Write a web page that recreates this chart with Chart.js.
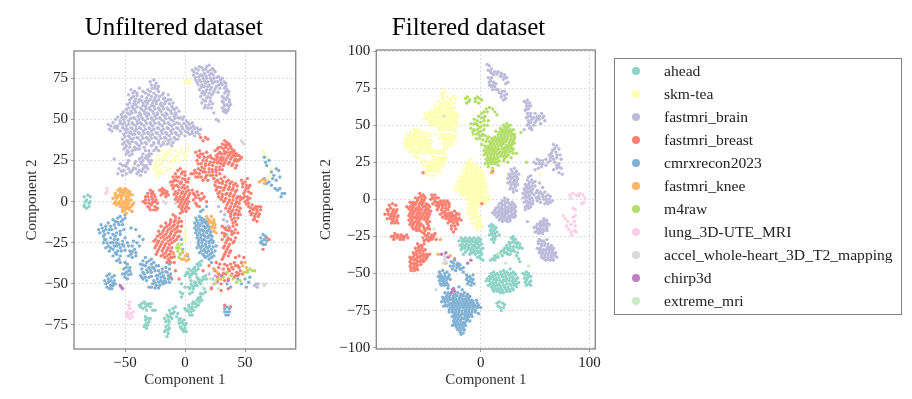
<!DOCTYPE html>
<html>
<head>
<meta charset="utf-8">
<script src="https://cdn.jsdelivr.net/npm/chart.js@4"></script>
<style>
  html, body { margin: 0; padding: 0; background: #fff; }
  body { position: relative; width: 912px; height: 399px; overflow: hidden; font-family: "Liberation Serif", serif; }
  .plot { position: absolute; top: 0; height: 399px; filter: blur(0.45px); }
  #legend { position: absolute; left: 614px; top: 58px; width: 288px; height: 257px; box-sizing: border-box; border: 1px solid #808080; padding-top: 0.5px; filter: blur(0.35px); }
  #legend div { position: relative; height: 23px; line-height: 22px; font-size: 15.6px; color: #222; padding-left: 49px; white-space: nowrap; }
  #legend i { position: absolute; left: 17px; top: 7.5px; width: 8px; height: 8px; border-radius: 50%; }
</style>
</head>
<body>
<div class="plot" style="left:0;width:348px"><canvas id="plotA"></canvas></div>
<div class="plot" style="left:300px;width:337px"><canvas id="plotB"></canvas></div>
<div id="legend"></div>
<script>
const names = ["ahead", "skm-tea", "fastmri_brain", "fastmri_breast", "cmrxrecon2023", "fastmri_knee", "m4raw", "lung_3D-UTE_MRI", "accel_whole-heart_3D_T2_mapping", "chirp3d", "extreme_mri"];
const colors = ["#8dd3c7", "#ffffb3", "#bebada", "#fb8072", "#80b1d3", "#fdb462", "#b3de69", "#fccde5", "#d9d9d9", "#bc80bd", "#ccebc5"];
const xTicksA = [-50, 0, 50];
const yTicksA = [-75, -50, -25, 0, 25, 50, 75];
const xTicksB = [0, 100];
const yTicksB = [-100, -75, -50, -25, 0, 25, 50, 75, 100];

// ================= UNFILTERED (x,y pairs) =================
const uAhead = [-84,3,-83,0,-84,-3,-82,-4,-80,-3,-79,0,-79,3,-81,4,-82,1,-80,-1,-84,-2,
  0,-45,2,-43,4,-46,3,-41,6,-44,8,-40,7,-43,10,-38,12,-37,14,-36,11,-41,9,-44,5,-48,-3,-50,
  3,-52,5,-50,7,-53,9,-49,11,-47,13,-50,15,-46,17,-45,18,-47,8,-51,6,-55,4,-56,12,-49,-4,-55,-2,-56,-3,-58,
  0,-65,2,-66,3,-63,5,-67,6,-64,8,-62,10,-60,9,-64,11,-63,7,-66,13,-58,14,-60,15,-56,17,-55,12,-61,4,-69,6,-69,
  -38,-63,-36,-62,-35,-65,-33,-64,-34,-61,-31,-63,-29,-64,-27,-66,-25,-66,-28,-62,
  -33,-72,-32,-74,-34,-76,-31,-71,-30,-73,-32,-77,-29,-71,-17,-71,
  -15,-69,-14,-72,-12,-68,-11,-71,-13,-66,-10,-65,-9,-67,-16,-73,-8,-64,
  -16,-76,-15,-78,-14,-80,-17,-79,-15,-82,-13,-77,-14,-75,
  -7,-70,-5,-72,-3,-73,-1,-75,-6,-68,-4,-76,-2,-78,0,-77,1,-79,-1,-72,1,-74,-5,-74,
  1,-44,3,-44,5,-42,7,-41,9,-42,11,-39,13,-38.5,5,-44.5,4,-53,6,-51.5,8,-49,10,-51,12,-47.5,14,-48,16,-47,10,-46,0,-52,1,-66,3,-67,4,-64.5,6,-62,7,-61,9,-62,11,-58.5,13,-56,5,-65,12,-59,16,-53,
  -37,-64,-33,-62,-32,-66,-30,-62,-33,-70,-31,-75,-33,-75,-14,-70,-12,-70,-13,-73,-10,-68,-16,-78,-14,-78,-4,-71,-2,-74,-3,-77,0,-75,-1,-79];
const uSkm = [-26,20,-24,17,-22,15,-25,23,-22,22,-20,19,-18,17,-21,26,-23,28,-19,24,-17,21,-15,19,-20,31,-17,29,-16,26,-13,24,-14,30,-11,28,-10,25,-8,31,-6,28,-5,25,-3,32,-1,29,0,26,2,31,3,33,-8,27,-12,20,-24,25,-18,27,
  -23,19,-21,17,-24,21,-20,23,-15,28,-12,32,-9,24,-4,30,1,28,
  2,74,4,73,3,72,0,73,65,31,66,29,68,27,70,16,69,14,72,20,0,-17,0,-20,1,-22,0,-24,-54,-41];
const uBrain = [-26,74,-24,72,-28,71,-22,70,-25,69,-31,68,-45,68,-42,67,-38,69,-33,66,-29,67,-26,66,-22,67,-18,66,
  -47,65,-43,64,-40,66,-36,64,-32,63,-28,64,-25,63,-21,64,-17,63,-14,65,-46,62,-42,61,-38,62,-35,60,-31,61,-27,60,-24,61,-20,60,-16,61,-12,62,-10,60,
  -48,59,-44,58,-41,59,-37,57,-33,58,-30,57,-26,58,-22,57,-19,58,-15,57,-11,58,-9,56,-49,56,-45,55,-42,56,-38,54,-34,55,-31,54,-27,55,-23,54,-20,55,-16,54,-12,55,-8,54,-5,55,
  -53,53,-50,52,-46,53,-43,51,-39,52,-36,51,-32,52,-28,51,-25,52,-21,51,-17,52,-13,51,-9,52,-6,51,-58,50,-54,49,-51,50,-47,49,-44,48,-40,49,-37,48,-33,49,-29,48,-26,49,-22,48,-18,49,-14,48,-10,49,-7,48,-2,50,1,49,
  -64,47,-60,48,-56,46,-52,47,-49,46,-45,45,-41,46,-38,45,-34,46,-30,45,-27,46,-23,45,-19,46,-15,45,-11,46,-7,45,-3,46,1,46,4,47,7,46,10,45,
  -63,44,-59,45,-54,43,-50,44,-46,42,-42,43,-39,42,-35,43,-31,42,-28,43,-24,42,-20,43,-16,42,-12,43,-8,42,-4,43,0,43,3,44,6,43,9,42,13,44,
  -51,41,-47,40,-44,41,-40,39,-36,40,-32,39,-29,40,-25,39,-21,40,-17,39,-13,40,-9,39,-5,40,0,40,4,41,8,40,12,41,
  -52,38,-48,37,-45,38,-41,36,-37,37,-33,36,-30,37,-26,36,-22,37,-18,36,-14,37,-10,36,-6,38,-52,35,-49,34,-46,35,-42,33,-38,34,-34,33,-28,34,-24,33,-20,34,-15,35,-11,34,
  -51,32,-48,31,-44,31,-40,32,-26,31,-22,31,-49,29,-46,28,-35,29,-32,28,-28,29,-30,31,-59,26,-47,25,-38,26,-35,25,-31,26,-28,25,-54,23,-50,22,-42,23,-39,22,-36,23,-32,22,-29,23,-55,20,-51,19,-47,20,-44,19,-41,20,-38,19,-35,20,-31,20,-56,17,-52,16,-49,17,-45,18,-40,17,-37,16,-33,18,
  -29,73,-25,70.5,-27.5,69,-23,68.5,-43.5,66,-40,64.5,-35,67,-30.5,65,-24,64.5,-19,65,-44.5,63,-41,62.5,-36.5,61.5,-33,61,-29,62,-26,61.5,-22,62,-18,62.5,-14,62,-46,60,-42.5,59.5,-39,60.5,-35,58.5,-31.5,59.5,-28,58.5,-24,59.5,-20.5,59,-17,59.5,-13,59.5,
  -47,57,-43.5,57,-40,57.5,-36,56,-32.5,56.5,-29,56,-25,56.5,-21.5,56,-18,56.5,-14,56,-10,56.5,-7,57,-51.5,54.5,-48,54,-44,54,-41,54.5,-37,53,-33.5,53.5,-30,53,-26,53.5,-23,53,-19,53,-15,53,-11,53.5,-7.5,53,
  -56,51.5,-52.5,51,-49,51.5,-45.5,50.5,-42,50.5,-38.5,50,-35,50,-31,50.5,-27.5,50,-24,50.5,-20,50,-16,50.5,-12,50,-8.5,50.5,-4,51,-1,51.5,
  -62,46,-58,46,-54,47.5,-50.5,48,-47,47,-43,47,-39.5,47.5,-36,47,-32,47.5,-28.5,47,-25,47.5,-21,47,-17,47.5,-13,47,-9,47,-5,47.5,-1,47.5,2.5,48,6,48,
  -61,43,-56.5,44.5,-52,45,-48,44,-44,44.5,-40.5,44,-37,44.5,-33,44,-29.5,44.5,-26,44,-22,44.5,-18,44,-14,44.5,-10,44,-6,44.5,-2,44.5,2,45,5,45,8,44.5,11,43.5,
  -49,42,-45.5,42.5,-42,41,-38,41.5,-34,41.5,-30.5,41.5,-27,41,-23,41.5,-19,41.5,-15,41,-11,41.5,-7,41,-3,41.5,2,42,6,41.5,10,42,
  -50,39.5,-46.5,39.5,-43,38.5,-39,38.5,-35,38.5,-31.5,38.5,-28,38.5,-24,38.5,-20,38.5,-16,38.5,-12,38,-8,38,
  -50.5,36,-47,36,-44,36.5,-40,35,-36,35.5,-32,35,-26,35,-22,35.5,-18,35,-13,35.5,
  -49.5,33,-46,33,-42,31.5,-38,32,-24,32,-47,30,-44,29,-33,31,-30,29,-36,27,-33,26.5,-30,27.5,-52,22,-48,23.5,-41,24.5,-37,24,-34,22,-30,24.5,-53,18.5,-49,21.5,-46,18,-43,20.5,-39,18,-36,18.5,-33,21,
  6,80,9,81,12,82,15,80,18,82,20,83,23,81,7,77,10,78,13,77,16,78,19,79,22,78,25,79,28,76,31,75,34,72,
  9,74,12,74,15,75,18,75,21,75,24,75,27,73,30,72,33,69,11,71,14,71,17,72,20,71,23,72,26,70,29,69,
  12,68,15,67,18,68,21,68,24,67,13,64,16,65,19,64,22,65,14,60,17,61,21,61,16,57,19,57,22,57,24,54,26,50,28,49,
  35,68,33,66,36,65,31,64,34,62,37,62,32,60,35,59,38,59,31,57,33,56,36,56,34,54,31,61,
  7.5,79,11,80,14,81.5,17,80.5,21,80,24,80,8.5,75.5,11.5,76,14.5,76.5,17.5,76.5,20.5,77,23.5,77,26.5,75.5,29.5,74,32.5,73,10,72.5,13,73,16,73.5,19,73,22,73.5,25,73,28,71,31,71,34,70,13.5,69.5,16,70,19,70,22,69.5,25,68.5,27.5,66.5,14,66,17,66.5,20,66,23,65.5,15,62,18,63,21,63,20,59,17,58.5,23,59.5,
  34,67,36.5,67,32,63,35,63.5,33,58.5,36.5,58,37,60.5,32,55,35,55,
  28,-3,30,-6,33,-8,32,-11,35,-12,36,-15,34,-16,38,-18,35,-20,59,-50,61,-50,60,-52,58,-51,23,-47,24,-50,20,-44,27,-49,22,-52,25,-45];
const uBreast = [13,39,15,37,17,39,19,38,
  25,31,28,33,31,35,33,37,35,36,37,35,39,32,41,31,43,29,45,28,47,27,26,28,29,30,32,32,34,33,36,32,38,30,40,28,42,26,44,25,
  27,27,30,27,33,29,36,28,39,27,28,24,31,25,34,25,37,24,40,23,43,22,15,29,18,30,12,31,9,30,21,28,24,26,21,24,18,25,15,25,12,27,10,25,
  23,22,26,21,29,21,32,22,20,20,23,18,26,18,29,17,17,22,14,21,11,20,8,19,5,17,12,17,15,18,18,16,21,16,24,14,9,15,15,13,19,13,
  -12,12,-10,15,-8,17,-6,19,-4,20,-2,18,0,16,3,14,-11,10,-8,13,-5,15,-2,14,1,12,-10,8,-7,10,-4,11,-1,10,2,9,-8,6,-5,7,-2,6,1,6,4,5,-7,3,-4,3,-1,3,2,2,-6,0,-3,0,0,0,3,0,-5,-3,-2,-3,1,-3,-2,-6,1,-6,-4,-7,
  6,7,8,4,10,6,12,2,14,5,16,3,18,0,7,1,9,-1,12,-3,
  24,14,27,13,30,14,33,15,36,13,39,12,42,11,25,10,28,9,31,11,34,10,37,9,40,8,43,7,26,7,29,6,32,7,35,5,38,5,41,4,44,3,28,3,31,3,34,2,37,1,40,1,43,0,46,1,32,0,35,-2,38,-3,41,-3,44,-3,36,-6,39,-6,42,-7,45,-6,38,-9,41,-10,44,-10,40,-13,43,-14,
  47,13,50,12,52,14,54,10,48,9,51,8,53,6,49,5,52,3,54,2,50,0,53,-1,48,2,
  53,-3,56,-2,59,-3,61,-3,54,-6,57,-5,60,-6,63,-5,55,-8,58,-9,61,-9,57,-11,60,-12,
  -35,0,-33,3,-31,5,-29,7,-27,6,-25,3,-33,-1,-30,1,-28,3,-25,0,-31,-3,-28,-2,-25,-3,-23,-1,-29,-5,-26,-5,-23,-4,
  -21,7,-19,8,-17,7,-15,6,-20,4,-18,5,-16,3,-14,4,
  -8,-9,-10,-8,-5,-10,-3,-12,-12,-11,-9,-12,-6,-13,-3,-15,-16,-13,-13,-14,-10,-15,-7,-16,-4,-18,-20,-15,-17,-16,-14,-17,-11,-18,-8,-19,-5,-21,-22,-18,-19,-19,-16,-20,-13,-21,-10,-22,-7,-23,-23,-21,-20,-22,-17,-23,-14,-24,-11,-25,
  -26,-24,-23,-25,-20,-26,-17,-27,-14,-28,-11,-28,-25,-28,-22,-29,-19,-30,-16,-31,-13,-32,-10,-31,-24,-32,-20,-33,-17,-34,-14,-35,-11,-34,-15,-37,-12,-37,-9,-37,
  31,-15,34,-17,37,-16,40,-15,42,-17,44,-19,31,-19,33,-21,36,-22,39,-20,42,-22,31,-23,34,-25,37,-26,40,-25,32,-28,35,-29,38,-30,33,-32,36,-33,31,-35,
  26,-37,29,-38,32,-41,35,-39,38,-38,41,-37,44,-39,47,-37,25,-42,28,-44,31,-45,34,-44,37,-42,40,-41,43,-43,46,-42,27,-48,30,-50,33,-48,36,-47,41,-46,44,-45,48,-44,22,-53,30,-54,36,-53,20,-39,15,-42,49,-34,45,-33,42,-34,
  65,-29,70,-23,68,-22,33,-63,38,-64,-8,-42,-12,-46,-5,-47,
  27,32,30,33,33,34.5,35.5,34.5,38,33.5,41,29.5,44,28,46,26,27.5,29,30.5,29,33,30.5,35,30,37.5,29,40,30,42,28,45,25.5,26,25.5,29,25.5,32,26.5,35,26.5,38,26,41,25,43,24.5,30,23,33,23.5,36,23,39,22,42,20.5,24,24,27,23.5,22,26.5,19,27,16,27,13,29,10.5,28,17,23,13.5,23,11,23,20,22.5,22.5,19.5,25.5,19.5,28.5,19.5,31,19.5,16,20,13,19,9.5,17.5,7,17,17,18,20,18,23,16,26,16,11,15,13.5,15,17,14.5,
  -9,13,-7,15,-3,17,0,18,-10,12,-6,12.5,-3,12,0,13.5,2.5,12,-9,9.5,-5.5,9,-2.5,8.5,0,8,3,7,-9,4.5,-6,5,-3,5,0,4.5,3,3.5,-8,1.5,-5,1.5,-2,1.5,1,1.5,-4,-1.5,-1,-1.5,2,-1.5,-3,-4.5,0,-4.5,3,-4,7,5,9,2.5,11,4,13,1,15,2,10,-2.5,
  25.5,12,28.5,11.5,31.5,12.5,34.5,12,37.5,11,40.5,10,43.5,9.5,26.5,8.5,30,8.5,33,8.5,36,7.5,39,7,42,6,27.5,5,31,4.5,34,4.5,37,3.5,40,3,43,2,46,3,30,1.5,33,0.5,36,-0.5,39,-1,42,-1.5,45,-1,34,-4,37,-4.5,40,-5,43,-5,46,-4,38,-7.5,41,-8,44,-8,46,-8,39,-11,42,-12,
  48,11,51,10,53,8.5,50,6.5,49.5,3,52,1,55,5,51,-1.5,55,-4,58,-4,60,-4.5,63,-3,56,-7,59,-7.5,62,-7.5,58,-10.5,
  -33,1,-31,3,-28,5,-26,4.5,-30,-1,-27,-0.5,-24,1,-27,1.5,-30,-3.5,-24,-5,-19,6,-16,5,
  -8,-11,-5,-12,-12,-12.5,-9,-14,-6,-15,-15,-15,-12,-16,-9,-17,-6,-18,-18,-17.5,-15,-18.5,-12,-19.5,-9,-20.5,-6,-21.5,-21,-20,-18,-21,-15,-22,-12,-23,-9,-24,-24.5,-23,-22,-24,-19,-24.5,-16,-25.5,-13,-26,-24,-26.5,-21,-27.5,-18,-28.5,-15,-29.5,-12,-30,-23,-30.5,-18,-32,-15,-33,-12,-34,-9,-33.5,-13,-36,
  33,-16,36,-17.5,39,-18,41,-19,33,-19.5,35,-23.5,38,-23,41,-24,33,-27,36,-27.5,34,-30.5,37,-31,32,-33.5,
  28,-40,33,-38,36,-41,39,-40,42,-39,45,-40,27,-46,32,-43.5,39,-44,42,-45,45,-44];
const uCmr = [-72,-17,-70,-14,-68,-18,-66,-15,-64,-13,-60,-11,-58,-12,-56,-10,-54,-9,-52,-11,-50,-10,-71,-19,-68,-21,-64,-19,-61,-17,-58,-16,-55,-14,-52,-14,
  -68,-25,-66,-23,-64,-27,-62,-22,-60,-25,-58,-21,-56,-23,-54,-20,-52,-24,-50,-22,-66,-28,-63,-30,-60,-29,-57,-27,-54,-28,-51,-27,-48,-25,-46,-30,-44,-27,-42,-29,-40,-25,-47,-33,-44,-34,-41,-33,-60,-33,-57,-32,-54,-33,-57,-36,-54,-37,-45,-16,-41,-17,-38,-21,-35,-23,
  -67,-48,-65,-45,-63,-44,-61,-46,-59,-48,-66,-50,-64,-49,-62,-51,-60,-51,-61,-53,-63,-53,-59,-45,
  -50,-37,-48,-38,-46,-40,-51,-41,-49,-43,-47,-42,-45,-44,-50,-46,-48,-47,-52,-44,
  -37,-38,-35,-36,-33,-34,-30,-36,-28,-35,-26,-37,-36,-41,-33,-39,-30,-40,-27,-40,-24,-39,-37,-45,-34,-44,-31,-43,-28,-43,-25,-42,-35,-47,-30,-46,
  -22,-39,-19,-41,-16,-40,-13,-38,-24,-45,-21,-44,-18,-45,-15,-43,-12,-44,-26,-48,-23,-47,-20,-48,-17,-48,-14,-47,-11,-47,-30,-52,-27,-50,-24,-51,-21,-51,-18,-50,
  9,-10,12,-9,14,-10,16,-11,8,-13,11,-13,14,-13,17,-13,19,-14,8,-16,11,-16,14,-17,17,-16,20,-17,9,-19,12,-19,15,-20,18,-19,21,-20,10,-22,13,-22,16,-23,19,-22,22,-23,11,-25,14,-25,17,-26,20,-25,23,-25,26,-27,10,-28,13,-28,16,-29,19,-28,22,-29,25,-30,12,-31,15,-32,18,-31,21,-32,24,-33,17,-34,20,-35,15,-5,18,-3,13,-6,
  63,-22,65,-20,67,-21,64,-24,66,-23,68,-24,65,-26,67,-26,63,-25,
  33,-65,35,-64,37,-65,33,-67,35,-67,37,-67,34,-69,36,-69,
  68,22,66,27,67,24,70,25,72,18,74,16,76,20,78,19,79,15,76,13,73,14,70,12,72,10,75,8,77,7,79,8,81,5,83,5,80,3,66,14,68,11,
  22,-37,24,-41,44,-47,47,-50,50,-47,53,-49,35,-50,38,-52,51,-52,54,-46,-50,-8,-2,-29,2,-33,-3,-23,
  -69,-16,-66,-17,-62,-15,-59,-14,-56,-12.5,-53,-12,-67,-20,-63,-17,-60,-20,-57,-19,-54,-18,-51,-17,-67,-23,-65,-25,-62,-25,-59,-23,-57,-25,-55,-26,-52,-26,-62,-28,-59,-27,-56,-30,-53,-30,-50,-29.5,-47,-27,-44,-30.5,-41,-31,-58,-31,-55,-35,-45,-32,-43,-24,-38,-27,
  -64,-47,-62,-48,-60,-49.5,-65,-52,-58,-50,-49,-40,-47,-44.5,-50,-44,-46,-42,
  -35,-38.5,-32,-37,-28,-38,-35,-43,-32,-41.5,-29,-41.5,-26,-40.5,-36,-46,-33,-46,-28,-45.5,-32,-48,-22,-42,-19,-43,-16,-42.5,-13,-41,-23,-45,-20,-46,-17,-46.5,-14,-45,-25,-49.5,-22,-49,-19,-49.5,-16,-49,-13,-49,-28,-52,-25,-52.5,-22,-52.5,
  10,-11.5,13,-11,15,-12,18,-12,9.5,-14.5,12.5,-14.5,15.5,-15,18.5,-15,21,-15.5,9.5,-17.5,12.5,-17.5,15.5,-18,18.5,-18,21.5,-18.5,10.5,-20.5,13.5,-20.5,16.5,-21,19.5,-21,22.5,-21,11.5,-23.5,14.5,-23.5,17.5,-24,20.5,-24,23.5,-24,11.5,-26.5,14.5,-27,17.5,-27.5,20.5,-27,23.5,-27.5,13.5,-30,16.5,-30,19.5,-30,22.5,-31,16,-33,19,-33,22,-34];
const uKnee = [-60,2,-58,5,-56,7,-54,8,-52,7,-50,8,-48,7,-46,6,-44,4,-59,-1,-57,2,-55,4,-53,4,-51,4,-49,3,-47,3,-45,1,-43,-1,-57,-2,-55,0,-53,1,-51,0,-49,0,-47,-1,-45,-3,-54,-3,-52,-3,-50,-3,-48,-4,-46,-5,-52,-6,-49,-7,-44,-6,
  -58,0,-56,3,-54,6,-52,5.5,-50,6,-48,5,-46,4.5,-56,-1,-54,-1.5,-52,-1,-50,-1.5,-48,-2,-53,2.5,-49,1.5,-47,1,-50,-5,-47,-4,-52,-4.5,-58,3.5,-44,-2,
  18,-9,20,-11,22,-9,24,-11,20,-13,23,-13,25,-14,22,-16,25,-16,24,-18,26,-19,19,-10.5,21,-12,23,-15,24,-12.5,
  -4,-32,-2,-31,0,-33,2,-32,3,-35,-1,-35,1,-36,-3,-35,
  50,-37,48,-39,51,-40,52,-42,49,-43,27,-43,24,-41,30,-47,62,12,64,13,66,11,67,13,-10,-32];
const uM4 = [-6,-26,-5,-28,-3,-26,-6,-30,-4,-32,-2,-30,-5,-34,-7,-28,56,-42,54,-41,52,-43,50,-43,58,-42,40,-47,38,-45,43,-49,25,-50,28,-47,35,-43,32,-46,46,-48];
const uLung = [-46,-61,-47,-63,-46,-65,-48,-67,-49,-68,-47,-69,-45,-68,-44,-70,-46,-71,-43,-67,-48,-70,-65,8,-65,6,-66,5];
const uAccel = [48,36,47,37,49,35,66,-51,67,-50,-17,37,-12,36,-18,0,-16,-1,-8,-1,30,-41];
const uChirp = [-53,-52,-52,-53,-54,-51,30,-45,36,-48];
const uExtreme = [25,-48,28,-53,15,-52,65,-50,21,-47];

// ================= FILTERED (x,y pairs) =================
const fAhead = [-20,-28,-18,-26,-16,-27,-14,-26,-12,-27,-10,-26,-8,-27,-6,-26,-4,-27,-2,-26,0,-27,-19,-31,-17,-30,-15,-31,-13,-30,-11,-31,-9,-30,-7,-31,-5,-30,-3,-30,-1,-31,1,-30,-18,-34,-15,-33,-12,-34,-9,-34,-6,-34,-3,-33,0,-34,2,-33,-16,-37,-10,-37,-8,-36,-5,-37,-2,-36,1,-37,-3,-39,0,-40,2,-41,
  8,-18,10,-17,12,-18,14,-19,9,-21,12,-21,15,-22,8,-24,11,-24,14,-25,17,-24,10,-27,13,-27,12,-29,
  30,-25,28,-26,32,-27,29,-29,26,-29,33,-30,36,-30,24,-31,27,-32,30,-32,35,-33,38,-33,22,-33,25,-34,28,-35,31,-35,34,-36,19,-35,22,-36,25,-37,16,-37,13,-38,16,-39,20,-38,11,-40,9,-41,13,-41,33,-38,35,-40,36,-42,
  12,-49,15,-50,18,-49,21,-48,24,-49,27,-47,30,-49,8,-52,11,-52,14,-53,17,-53,20,-52,23,-52,26,-51,29,-52,32,-51,34,-53,5,-55,8,-55,11,-56,14,-56,17,-57,20,-56,23,-55,26,-55,29,-55,32,-55,35,-56,7,-58,10,-59,13,-59,16,-60,19,-60,22,-59,25,-59,28,-58,31,-58,33,-59,12,-62,15,-62,18,-63,21,-63,24,-62,27,-62,30,-61,
  39,-50,42,-49,44,-50,46,-52,40,-53,43,-53,46,-55,41,-56,44,-57,46,-58,42,-58,
  15,-70,17,-69,20,-70,22,-71,16,-72,18,-73,21,-73,19,-75,
  -17,-28,-15,-28.5,-13,-28,-11,-28.5,-9,-28,-7,-28.5,-5,-28.5,-3,-28.5,-1,-28.5,-17,-32.5,-14,-32,-11,-32.5,-8,-32.5,-5,-32,-2,-32,-14,-35.5,-9,-35.5,-6,-35.5,-3,-35,0,-35.5,-1,-38.5,
  10,-19,13,-20,10,-22.5,13,-23,12,-25.5,30,-27,27,-30,31,-29,34,-29,24,-32.5,27,-33.5,30,-34,33,-32,36,-32,21,-34.5,24,-36,27,-37,18,-36.5,14,-39,
  10,-50,13,-51,16,-51,19,-50.5,22,-50,25,-50,28,-50,31,-50,6,-53.5,9,-53.5,12,-54,15,-54.5,18,-55,21,-54,24,-53.5,27,-53,30,-53.5,33,-53.5,9,-57,12,-57.5,15,-58,18,-58.5,21,-58,24,-57,27,-57,30,-56.5,33,-57,11,-60.5,14,-60.5,17,-61.5,20,-61.5,23,-60.5,26,-60.5,29,-60,41,-51,44,-51.5,42,-54.5,45,-56];
const fSkm = [-34,74,-33,72,-36,71,-31,69,-35,68,-25,70,-23,68,-27,68,-39,66,-36,65,-33,66,-30,65,-27,66,-24,65,-42,63,-39,62,-36,62,-33,63,-30,62,-27,62,-24,62,-46,60,-43,60,-40,59,-37,59,-34,60,-31,59,-28,59,-25,59,-22,58,-51,58,-48,57,-45,57,-42,56,-39,56,-36,57,-33,56,-30,56,-27,56,-24,55,-21,56,
  -52,54,-49,54,-46,53,-43,53,-40,53,-37,54,-34,53,-31,53,-28,53,-25,53,-22,52,-45,50,-42,50,-39,50,-36,50,-33,50,-30,50,-27,50,-24,50,-21,49,-38,47,-35,47,-32,47,-29,47,-26,47,-23,46,-61,47,-58,47,-55,46,-50,45,
  -68,44,-65,45,-62,44,-59,44,-56,43,-53,43,-50,42,-46,43,-42,44,-37,44,-34,44,-31,44,-28,44,-25,43,-22,43,-69,41,-66,41,-63,41,-60,41,-57,40,-54,40,-51,40,-48,40,-45,40,-38,41,-35,41,-32,41,-29,41,-26,40,-23,40,-70,38,-67,38,-64,38,-61,38,-58,37,-55,37,-52,37,-49,37,-46,37,-35,38,-32,38,-29,37,-26,37,-69,35,-66,35,-63,35,-60,34,-57,34,-54,34,-51,34,-48,34,-45,34,-40,33,-37,33,-34,34,-31,34,-65,32,-62,32,-59,31,-56,31,-52,31,-48,31,-45,31,-42,31,-39,31,-36,31,-33,31,-61,29,-58,28,-44,29,-41,28,-38,28,-35,28,-32,28,
  -54,26,-51,26,-48,25,-45,25,-42,25,-39,25,-36,25,-33,24,-53,23,-50,22,-47,22,-44,22,-41,22,-38,22,-35,22,-52,19,-49,19,-46,19,-43,19,-40,19,-37,18,-50,17,-47,16,-43,16,
  -9,27,-11,26,-8,24,-13,24,-10,23,-7,24,-4,23,-15,21,-12,21,-9,21,-6,21,-3,21,0,20,-17,18,-14,18,-11,18,-8,18,-5,18,-2,18,1,18,3,17,-19,15,-16,15,-13,15,-10,15,-7,15,-4,15,-1,15,2,15,4,14,-21,12,-18,12,-15,12,-12,12,-9,12,-6,12,-3,12,0,12,3,12,5,11,-23,9,-20,9,-17,9,-14,9,-11,9,-8,9,-5,9,-2,9,1,9,4,9,6,8,-24,6,-21,6,-18,6,-15,6,-12,6,-9,6,-6,6,-3,6,0,6,3,6,6,5,-19,3,-16,3,-13,3,-10,3,-7,3,-4,3,-1,3,2,3,5,2,8,2,-13,0,-10,0,-7,0,-4,0,-1,0,2,0,5,-1,7,-1,-11,-3,-8,-3,-5,-3,-2,-3,1,-3,4,-3,
  -12,-6,-9,-6,-6,-7,-3,-6,-12,-9,-9,-10,-6,-10,-3,-9,-10,-13,-7,-13,-4,-12,-1,-12,-8,-16,-5,-16,-2,-15,0,-14,-5,-19,-2,-18,0,-17,1,-19,-3,-20,
  -37,-27,-40,-37,54,17,11,18,24,16,-54,-20,
  -35,70,-29,67,-37,63.5,-34,64,-31,64,-28,64,-41,61,-38,60.5,-35,61,-32,61,-29,60.5,-26,60.5,-47,58.5,-44,58.5,-41,58,-38,58,-35,58,-32,58,-29,57.5,-26,57.5,-23,57,-50,55.5,-47,55.5,-44,55,-41,55,-38,55,-35,55,-32,54.5,-29,54.5,-26,54.5,-23,54,-47,51.5,-44,52,-41,51.5,-38,52,-35,51.5,-32,51.5,-29,51.5,-26,51.5,-23,51,-40,48.5,-37,48.5,-34,48.5,-31,48.5,-28,48.5,-25,48,-60,45.5,-57,45,-53,45,-48,44,-66,43,-63,42.5,-60,42.5,-57,42,-54,41.5,-51,41.5,-36,43,-33,42.5,-30,42.5,-27,42,-24,41.5,-68,39.5,-65,39.5,-62,39.5,-59,39,-56,38.5,-53,38.5,-50,38.5,-47,38.5,-33,39.5,-30,39.5,-27,38.5,-68,36.5,-65,36.5,-62,36.5,-59,36,-56,35.5,-53,35.5,-50,35.5,-47,35.5,-33,36,-30,36,-64,33.5,-61,33,-58,32.5,-55,32.5,-50,32.5,-46,32.5,-43,32.5,-40,32,-37,32,-34,32.5,-43,27,-40,26.5,-37,26.5,-34,26,-49,23.5,-46,23.5,-43,23.5,-40,23.5,-37,23.5,-48,20.5,-45,20.5,-42,20.5,-39,20.5,
  -11,24.5,-8,22.5,-12,22.5,-9,19.5,-6,19.5,-3,19.5,-13,19.5,-15,16.5,-12,16.5,-9,16.5,-6,16.5,-3,16.5,0,16.5,-17,13.5,-14,13.5,-11,13.5,-8,13.5,-5,13.5,-2,13.5,1,13.5,-19,10.5,-16,10.5,-13,10.5,-10,10.5,-7,10.5,-4,10.5,-1,10.5,2,10.5,-20,7.5,-17,7.5,-14,7.5,-11,7.5,-8,7.5,-5,7.5,-2,7.5,1,7.5,4,7.5,-18,4.5,-15,4.5,-12,4.5,-9,4.5,-6,4.5,-3,4.5,0,4.5,3,4.5,-12,1.5,-9,1.5,-6,1.5,-3,1.5,0,1.5,3,1.5,6,1,-9,-1.5,-6,-1.5,-3,-1.5,0,-1.5,3,-1.5,-10,-4.5,-7,-4.5,-4,-4.5,-10,-8,-7,-8.5,-4,-8,-8,-11.5,-5,-11,-3,-14,-4,-17];
const fBrain = [6,91,8,90,10,88,7,87,10,85,13,86,16,86,19,85,22,84,24,82,18,83,21,81,25,79,23,78,7,82,9,80,8,77,11,77,14,78,11,74,14,74,17,72,20,73,22,70,19,69,23,68,24,71,
  40,66,43,67,45,65,42,63,44,61,46,63,41,60,43,58,46,58,42,55,44,53,46,52,43,50,45,48,47,47,40,47,49,50,47,54,49,55,52,56,54,54,56,58,58,56,59,53,51,53,50,58,55,51,
  70,36,67,37,72,34,66,33,69,32,73,30,63,30,66,29,70,28,74,27,60,27,64,26,68,25,72,24,52,27,49,25,54,24,57,24,60,23,53,21,50,20,70,21,74,21,67,20,75,17,72,18,
  28,20,31,21,33,19,26,17,29,17,32,16,35,17,25,14,28,14,31,13,34,14,25,11,28,10,31,10,34,10,27,7,30,7,33,6,30,5,
  46,16,43,13,47,13,50,12,41,10,44,10,47,9,50,9,54,11,57,8,40,7,43,7,46,6,52,6,55,5,59,5,62,3,39,4,42,4,45,3,49,3,53,2,57,2,60,0,63,0,66,-1,39,1,42,1,45,0,48,-1,52,-1,55,-2,59,-3,62,-3,40,-2,43,-3,46,-3,41,-5,44,-6,41,-7,
  22,1,25,0,20,-1,23,-2,26,-3,29,-2,17,-3,20,-4,23,-5,26,-5,29,-5,32,-5,14,-6,17,-7,20,-7,23,-8,26,-8,29,-7,32,-8,11,-9,14,-9,17,-10,20,-10,23,-10,26,-11,29,-10,32,-11,15,-12,18,-13,21,-13,24,-13,27,-13,30,-12,20,-15,25,-15,
  58,-13,61,-14,55,-15,58,-16,61,-16,63,-17,52,-17,55,-18,58,-18,61,-19,49,-19,52,-20,55,-21,58,-21,61,-21,50,-22,53,-23,57,-23,
  54,-27,58,-28,61,-27,53,-30,56,-30,59,-31,62,-30,65,-31,52,-33,55,-33,58,-34,61,-33,64,-33,67,-33,54,-36,57,-36,60,-36,63,-36,66,-36,69,-36,56,-39,59,-39,62,-39,65,-39,68,-38,70,-39,60,-41,64,-41,67,-41,43,-15,
  9,86,12,84,15,84.5,19,83,22,82,10,82,8,79,12,79,10,76,13,76,16,74,19,71,22,73,21,67,42,65,44,63,42,61,44,56,46,56,44,51,46,49,50,52,52,54,54,56,57,55,
  68,34.5,65,31,70,30,64,28,67,27,62,25,57,26,54,26,51,24,56,22,72,22,70,23,29,18.5,32,18,27,15.5,30,15,33,15,27,12,30,11.5,33,12,28,8.5,32,8.5,
  44,15,45,11.5,48,11,42,8.5,45,8,48,7,41,5.5,44,5,47,4.5,51,4.5,54,4,57,3.5,60,2,64,2,41,2.5,44,2,47,1,51,1,54,0.5,58,0,61,-1.5,64,-2,42,-1,45,-2,48,-3,43,-4.5,46,-5,
  22,-1,19,-2.5,22,-3.5,25,-2,28,-3.5,31,-3.5,16,-5,19,-5.5,22,-6.5,25,-6.5,28,-6.5,31,-6.5,13,-7.5,16,-8.5,19,-8.5,22,-9,25,-9,28,-8.5,31,-9.5,13,-10.5,16,-11,19,-11.5,22,-11.5,25,-12,28,-11.5,31,-12,17,-14,20,-13.5,23,-14.5,27,-14.5,
  59,-14.5,57,-15,60,-17.5,54,-16.5,57,-17,51,-18.5,54,-19.5,57,-20,60,-20,52,-21.5,55,-22.5,
  56,-28,53,-28.5,56,-31.5,59,-29.5,62,-32,65,-32.5,54,-34.5,57,-34.5,60,-34.5,63,-34.5,66,-34.5,56,-37.5,59,-37.5,62,-37.5,65,-37.5,68,-37,58,-40,62,-40.5,66,-40];
const fBreast = [-84,-4,-81,-3,-78,-4,-86,-7,-83,-6,-80,-7,-77,-7,-88,-10,-85,-10,-82,-10,-79,-10,-76,-11,-86,-13,-83,-13,-80,-13,-77,-14,-82,-16,-79,-16,-76,-16,
  -56,4,-53,3,-60,1,-57,1,-54,0,-51,1,-65,-2,-62,-2,-59,-2,-56,-3,-53,-2,-50,-3,-68,-5,-65,-5,-62,-5,-59,-6,-56,-6,-53,-5,-50,-6,-47,-5,
  -64,-8,-61,-8,-58,-9,-55,-9,-52,-9,-49,-9,-46,-8,-66,-11,-63,-11,-60,-12,-57,-12,-54,-12,-51,-12,-48,-12,-66,-14,-63,-14,-60,-15,-57,-15,-50,-15,-47,-15,-65,-17,-62,-17,-59,-18,-56,-18,-53,-18,-48,-18,-62,-20,-59,-21,-56,-21,-51,-21,-47,-20,
  -45,3,-42,3,-39,1,-46,0,-43,0,-40,-2,-37,-1,-34,-1,-31,-1,-44,-3,-41,-4,-38,-4,-35,-4,-32,-4,-29,-3,-40,-7,-36,-7,-33,-8,-30,-7,-37,-10,-33,-11,-30,-10,-27,-9,-24,-8,-35,-12,-32,-13,-29,-13,-26,-12,-23,-11,-20,-10,-30,-16,-27,-15,-24,-14,-21,-14,-18,-14,-27,-18,-24,-18,-21,-17,-27,-20,-25,-22,-23,-20,
  -82,-25,-79,-23,-76,-24,-73,-24,-70,-25,-67,-26,-80,-27,-77,-26,-74,-27,-71,-27,
  -54,-22,-51,-24,-48,-23,-45,-24,-42,-23,-53,-26,-50,-27,-47,-27,-44,-26,-41,-27,
  -58,-30,-55,-31,-52,-30,-60,-33,-57,-34,-54,-33,-51,-34,-62,-36,-59,-37,-56,-36,-53,-37,-50,-37,-47,-37,-65,-39,-62,-39,-59,-40,-56,-39,-53,-40,-50,-40,-65,-42,-62,-43,-59,-43,-56,-42,-53,-42,-65,-45,-62,-46,-59,-46,-64,-48,-61,-48,
  -53,18,1,-3,11,19,-24,-40,
  -85,-8,-81,-8.5,-78,-8.5,-83,-11.5,-80,-11.5,-77,-12,-81,-14.5,-78,-15,
  -55,2,-52,2,-58,-0.5,-55,-1.5,-52,-0.5,-63,-3.5,-60,-3.5,-57,-4.5,-54,-3.5,-51,-4.5,-48,-4,-66,-6.5,-63,-6.5,-60,-7,-57,-7.5,-54,-7,-51,-7.5,-48,-7,-65,-9.5,-62,-9.5,-59,-10.5,-56,-10.5,-53,-10.5,-50,-10.5,-47,-10,-64.5,-12.5,-61.5,-12.5,-58.5,-13.5,-55.5,-13.5,-52,-13.5,-49,-13.5,-64,-15.5,-61,-15.5,-58,-16.5,-55,-16.5,-49,-16.5,-63,-18.5,-60,-19.5,-57,-19.5,-52,-19.5,-49,-19.5,-44,1.5,-41,1,-42,-1.5,-39,-2.5,-36,-2.5,-33,-2.5,-30,-2,-39,-5.5,-35,-5.5,-32,-6,-29,-5,-35,-9,-32,-9.5,-29,-9.5,-26,-10.5,-31,-11.5,-28,-11.5,-25,-11,-22,-9.5,-29,-14.5,-26,-13.5,-23,-12.5,-25,-16,-22,-15.5,-20,-12.5,
  -80,-25,-77,-24.5,-74,-25.5,-71,-25.5,-68,-24,-52,-23,-49,-25,-46,-25.5,-43,-24.5,-52,-28,-48,-28,-45,-27,
  -57,-32,-54,-31.5,-59,-35,-56,-34.5,-53,-35,-61,-37.5,-58,-38.5,-55,-38,-52,-38.5,-49,-38.5,-64,-40.5,-61,-41,-58,-41.5,-55,-41,-52,-41.5,-64,-43.5,-61,-44.5,-58,-44.5,-55,-44,-64,-46.5,-61,-46.5,-58,-47.5];
const fCmr = [-27,-42,-24,-41,-21,-43,-28,-45,-25,-45,-22,-46,-19,-44,-16,-46,-23,-48,-19,-47,-16,-49,
  -38,-49,-35,-48,-31,-49,-39,-52,-36,-52,-33,-52,-29,-51,-38,-55,-35,-55,-32,-55,-28,-54,-36,-58,-33,-58,-30,-58,
  -13,-51,-10,-52,-7,-51,-13,-54,-10,-55,-7,-54,-12,-57,-9,-58,-6,-57,
  -30,-60,-25,-61,-20,-59,-17,-61,-33,-63,-30,-63,-27,-63,-24,-64,-21,-63,-18,-64,-15,-63,-12,-64,-35,-66,-32,-66,-29,-66,-26,-67,-23,-67,-20,-67,-17,-67,-14,-67,-11,-67,-8,-68,-36,-69,-33,-69,-30,-69,-27,-70,-24,-70,-21,-70,-18,-70,-15,-70,-12,-70,-9,-70,-6,-71,-3,-70,-34,-72,-31,-72,-28,-73,-25,-73,-22,-73,-19,-73,-16,-73,-13,-73,-10,-73,-7,-73,-3,-73,0,-73,
  -29,-76,-26,-76,-23,-76,-20,-76,-17,-77,-14,-76,-11,-76,-8,-76,-5,-76,-2,-77,-26,-79,-23,-79,-20,-79,-17,-80,-14,-79,-11,-79,-8,-79,-25,-82,-22,-82,-19,-82,-16,-83,-13,-82,-10,-82,-26,-85,-23,-85,-20,-85,-17,-85,-14,-85,-21,-88,-18,-88,-15,-88,-18,-91,-16,-90,
  -25,-43,-22,-44,-20,-45,-18,-47,-26,-47,-37,-50.5,-33,-50,-30,-52.5,-37,-53.5,-34,-53.5,-31,-53.5,-37,-57,-34,-56.5,-31,-56.5,-12,-52.5,-9,-53.5,-11,-55.5,-8,-56,
  -31,-64.5,-28,-64.5,-25,-65.5,-22,-65,-19,-65.5,-16,-65,-13,-65.5,-10,-65.5,-34,-67.5,-31,-67.5,-28,-67.5,-25,-68.5,-22,-68.5,-19,-68.5,-16,-68.5,-13,-68.5,-10,-68.5,-7,-69.5,-4,-68,-32,-71,-29,-71,-26,-71.5,-23,-71.5,-20,-71.5,-17,-71.5,-14,-71.5,-11,-71.5,-8,-71.5,-5,-72,-2,-71.5,-29,-74.5,-26,-74.5,-23,-74.5,-20,-74.5,-17,-75,-14,-74.5,-11,-74.5,-8,-74.5,-5,-74.5,-24,-77.5,-21,-77.5,-18,-78,-15,-77.5,-12,-77.5,-9,-77.5,-24,-80.5,-21,-80.5,-18,-81,-15,-80.5,-12,-80.5,-24,-83.5,-21,-83.5,-18,-84,-15,-83.5,-22,-86.5,-19,-86.5,-16,-86.5,-19,-89.5];
const fKnee = [-37,-27,-39,-37,10,18,-32,-43,-28,-38];
const fM4 = [-14,68,-12,69,-10,67,-13,65,-11,66,-5,68,-3,69,-1,68,-5,66,-2,65,1,67,
  5,61,8,62,11,61,3,59,1,58,6,59,13,59,15,57,-2,56,1,55,4,56,-6,54,-3,53,0,52,3,53,7,53,-9,51,-6,51,-3,50,0,49,3,50,6,50,-9,48,-6,47,-3,47,0,46,3,47,-7,44,-4,44,-1,43,2,44,-4,41,-1,41,
  21,50,24,51,27,50,18,48,21,47,24,48,27,47,30,47,14,46,17,45,20,45,23,45,26,45,29,44,31,44,4,43,7,42,10,41,13,42,16,42,19,42,22,42,25,42,28,41,31,41,2,40,5,39,8,39,11,39,14,39,17,39,20,39,23,39,26,38,29,38,31,38,
  1,37,4,36,7,36,10,36,13,36,16,36,19,36,22,35,25,35,28,35,30,34,3,33,6,33,9,33,12,33,15,33,18,32,21,32,24,32,27,32,30,31,33,31,3,30,6,30,9,30,12,30,15,30,18,29,21,29,24,29,28,28,5,27,8,27,11,27,14,27,17,26,21,26,25,25,4,24,7,24,10,24,13,24,16,23,7,22,11,21,
  42,25,37,45,
  3,55,-4,51,-1,48.5,-7,46,-2,45,1,43,6,41,9,37.5,12,37.5,15,37.5,18,37.5,21,37.5,24,36.5,27,36.5,29,37,5,34.5,8,34.5,11,34.5,14,34.5,17,34,20,34,23,33.5,26,33.5,29,33,4.5,31.5,7.5,31.5,10.5,31.5,13.5,31.5,16.5,31,19.5,30.5,22.5,30.5,25.5,30,6.5,28.5,9.5,28.5,12.5,28.5,15.5,28,22,27.5,6,25.5,9,25.5,12,25.5,15,25,
  12,40.5,15,40.5,18,40.5,21,40.5,24,40.5,27,39.5,30,39.5,16,43.5,19,43.5,22,43.5,25,43.5,28,43,31,42.5,19,46.5,22,46.5,25,46.5,28,45.5,22,49,25,49];
const fLung = [82,3,85,4,88,3,91,4,94,3,96,1,95,-2,93,-3,83,1,90,2,85,-6,87,-7,
  76,-11,78,-13,80,-15,79,-18,81,-20,83,-22,84,-24,86,-21,87,-18,86,-15,85,-12,88,-22,83,-17,87,-11];
const fAccel = [-33,-39,-33,-41,-34,-43,-32,-42,-33,-37,-41,-61];
const fChirp = [-25,-60,-26,-61,-24,-62,-36,-37,-30,-39,-12,-43,-9,-41,-32,-36,-27,-63];
const fExtreme = [-43,-20,17,-37,44,-45,-34,56,23,-43];

const unfiltered = [uAhead, uSkm, uBrain, uBreast, uCmr, uKnee, uM4, uLung, uAccel, uChirp, uExtreme];
const filtered = [fAhead, fSkm, fBrain, fBreast, fCmr, fKnee, fM4, fLung, fAccel, fChirp, fExtreme];

function pairs(list) {
  const out = [];
  for (let i = 0; i < list.length; i += 2) out.push({ x: list[i], y: list[i + 1] });
  return out;
}

const frame = {
  id: "frame",
  afterDraw(chart) {
    const a = chart.chartArea, c = chart.ctx;
    c.save();
    c.strokeStyle = "#8c8c8c";
    c.lineWidth = 1.4;
    c.strokeRect(a.left, a.top, a.right - a.left, a.bottom - a.top);
    c.restore();
  }
};

// title sits off the plot centre in the picture
const titleShift = {
  id: "titleShift",
  beforeDraw(chart, args, opts) {
    if (chart.titleBlock.shifted) return;
    chart.titleBlock.left += opts.dx;
    chart.titleBlock.right += opts.dx;
    chart.titleBlock.shifted = true;
  }
};

function scatterPlot(id, title, lists, o) {
  const axis = (label, extra) => ({
    type: "linear",
    min: extra.min,
    max: extra.max,
    title: { display: true, text: label, color: "#333", font: { family: "Liberation Serif", size: 15 }, padding: extra.titlePad },
    grid: { color: "#dedede", tickLength: 3, tickColor: "#999", tickBorderDash: [] },
    border: { display: false, dash: [2, 2] },
    afterBuildTicks: s => { s.ticks = extra.ticks.map(value => ({ value })); },
    ticks: {
      autoSkip: false,
      maxRotation: 0,
      padding: extra.tickPad,
      color: "#222",
      font: { family: "Liberation Serif", size: 15 },
      callback: v => String(v).replace("-", "\u2212")
    },
    afterFit: extra.fit
  });
  return new Chart(document.getElementById(id), {
    type: "scatter",
    data: {
      datasets: lists.map((l, i) => ({
        label: names[i],
        data: pairs(l),
        backgroundColor: colors[i],
        pointRadius: 1.7,
        pointBorderWidth: 0,
        order: lists.length - i
      }))
    },
    options: {
      responsive: true,
      maintainAspectRatio: false,
      animation: false,
      events: [],
      layout: { padding: { left: 0, right: o.padRight, top: 0, bottom: 0 } },
      plugins: {
        legend: { display: false },
        tooltip: { enabled: false },
        titleShift: { dx: o.titleDx },
        title: { display: true, text: title, color: "#000", font: { family: "Liberation Serif", size: 25, weight: "normal" }, padding: { top: 13.5, bottom: o.titleBottom } }
      },
      scales: {
        x: axis("Component 1", { min: o.x[0], max: o.x[1], ticks: o.xTicks, tickPad: 2.5, titlePad: { top: 0, bottom: 10 }, fit: s => { s.height = 50; } }),
        y: axis("Component 2", { min: o.y[0], max: o.y[1], ticks: o.yTicks, tickPad: 3, titlePad: { top: o.yTitlePad, bottom: 0 }, fit: s => { s.width = o.yWidth; } })
      }
    },
    plugins: [frame, titleShift]
  });
}

window.chartA = scatterPlot("plotA", "Unfiltered dataset", unfiltered, { x: [-92.5, 92.2], y: [-89.6, 91.6], xTicks: xTicksA, yTicks: yTicksA, padRight: 52.3, yWidth: 74, yTitlePad: 23, titleBottom: 7.5, titleDx: 26 });
window.chartB = scatterPlot("plotB", "Filtered dataset", filtered, { x: [-96, 105.4], y: [-100.9, 100.7], xTicks: xTicksB, yTicks: yTicksB, padRight: 41.7, yWidth: 76.3, yTitlePad: 17, titleBottom: 6.5, titleDx: 20.9 });

// legend box on the right
const legendBox = document.getElementById("legend");
names.forEach((n, i) => {
  const row = document.createElement("div");
  const dot = document.createElement("i");
  dot.style.background = colors[i];
  row.appendChild(dot);
  row.appendChild(document.createTextNode(n));
  legendBox.appendChild(row);
});
</script>
</body>
</html>
